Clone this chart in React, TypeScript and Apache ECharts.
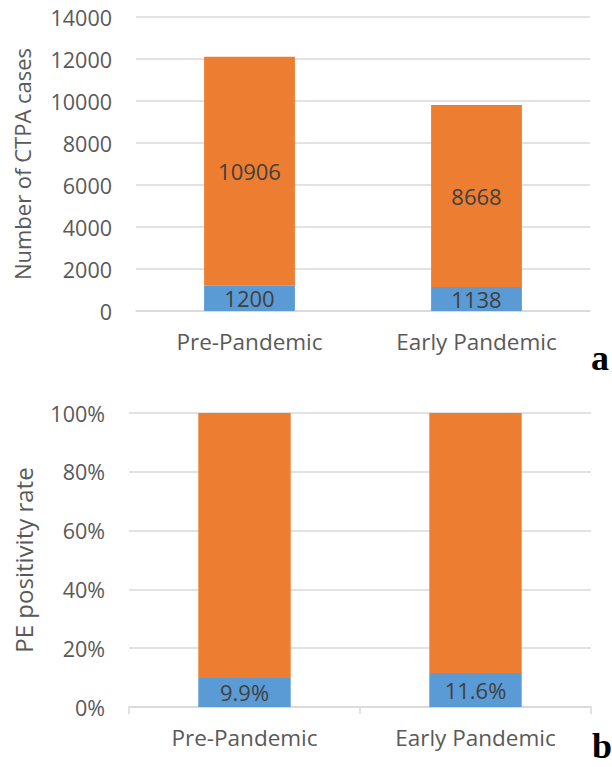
import React, { useEffect, useRef } from "react";
import * as echarts from "echarts";

const categories = ["Pre-Pandemic", "Early Pandemic"];
const positiveCases = [1200, 1138];
const negativeCases = [10906, 8668];
const positiveRate = [9.9, 11.6];
const negativeRate = [90.1, 88.4];
const countTicks = [0, 2000, 4000, 6000, 8000, 10000, 12000, 14000];
const rateTicks = [0, 20, 40, 60, 80, 100];

const BLUE = "#5B9BD5";
const ORANGE = "#ED7D31";
const GRID = "#D9D9D9";
const TEXT = "#595959";
const FONT = "'Open Sans', sans-serif";
const SERIF = "'Liberation Serif', 'DejaVu Serif', serif";

export default function App() {
  const ref = useRef<HTMLDivElement>(null);
  useEffect(() => {
    if (!ref.current) return;
    const chart = echarts.init(ref.current, null, { renderer: "svg" });
    const labelStyle = {
      show: true,
      position: "inside" as const,
      color: "#404040",
      fontSize: 22,
      fontFamily: FONT,
    };
    chart.setOption({
      animation: false,
      backgroundColor: "#ffffff",
      grid: [
        { left: 136, right: 22, top: 17, bottom: 456 },
        { left: 129, right: 21, top: 413, bottom: 60 },
      ],
      xAxis: [
        {
          gridIndex: 0,
          type: "category",
          data: categories,
          axisLine: { show: true, lineStyle: { color: GRID, width: 1.5 } },
          axisTick: { show: false },
          axisLabel: { color: TEXT, fontSize: 22.5, fontFamily: FONT, margin: 19 },
        },
        {
          gridIndex: 1,
          type: "category",
          data: categories,
          axisLine: { show: true, lineStyle: { color: GRID, width: 1.5 } },
          axisTick: { show: true, length: 7, lineStyle: { color: GRID, width: 1.5 } },
          axisLabel: { color: TEXT, fontSize: 22.5, fontFamily: FONT, margin: 19 },
        },
      ],
      yAxis: [
        {
          gridIndex: 0,
          type: "value",
          min: countTicks[0],
          max: countTicks[countTicks.length - 1],
          interval: 2000,
          name: "Number of CTPA cases",
          nameLocation: "middle",
          nameGap: 103,
          nameTextStyle: { color: TEXT, fontSize: 22, fontFamily: FONT },
          axisLine: { show: false },
          axisTick: { show: false },
          splitLine: { lineStyle: { color: GRID, width: 1.5 } },
          axisLabel: {
            color: TEXT,
            fontSize: 21.5,
            fontFamily: FONT,
            margin: 24,
            formatter: (v: number) => String(v),
          },
        },
        {
          gridIndex: 1,
          type: "value",
          min: rateTicks[0],
          max: rateTicks[rateTicks.length - 1],
          interval: 20,
          name: "PE positivity rate",
          nameLocation: "middle",
          nameGap: 94,
          nameTextStyle: { color: TEXT, fontSize: 24, fontFamily: FONT },
          axisLine: { show: false },
          axisTick: { show: false },
          splitLine: { lineStyle: { color: GRID, width: 1.5 } },
          axisLabel: {
            color: TEXT,
            fontSize: 21.5,
            fontFamily: FONT,
            margin: 24,
            formatter: (v: number) => v + "%",
          },
        },
      ],
      series: [
        {
          type: "bar",
          xAxisIndex: 0,
          yAxisIndex: 0,
          stack: "a",
          data: positiveCases,
          barWidth: "40%",
          itemStyle: { color: BLUE },
          label: labelStyle,
        },
        {
          type: "bar",
          xAxisIndex: 0,
          yAxisIndex: 0,
          stack: "a",
          data: negativeCases,
          barWidth: "40%",
          itemStyle: { color: ORANGE },
          label: labelStyle,
        },
        {
          type: "bar",
          xAxisIndex: 1,
          yAxisIndex: 1,
          stack: "b",
          data: positiveRate,
          barWidth: "40%",
          itemStyle: { color: BLUE },
          label: { ...labelStyle, formatter: (p: any) => p.value.toFixed(1) + "%" },
        },
        {
          type: "bar",
          xAxisIndex: 1,
          yAxisIndex: 1,
          stack: "b",
          data: negativeRate,
          barWidth: "40%",
          itemStyle: { color: ORANGE },
          label: { show: false },
        },
      ],
      graphic: [
        {
          type: "text",
          right: 3,
          top: 340,
          style: {
            text: "a",
            fontSize: 36,
            fontWeight: "bold",
            fontFamily: SERIF,
            fill: "#000000",
          },
        },
        {
          type: "text",
          right: 0,
          top: 728,
          style: {
            text: "b",
            fontSize: 36,
            fontWeight: "bold",
            fontFamily: SERIF,
            fill: "#000000",
          },
        },
      ],
    });
    return () => chart.dispose();
  }, []);
  return (
    <div
      ref={ref}
      style={{ position: "absolute", left: 0, top: 0, width: 612, height: 767 }}
    />
  );
}
